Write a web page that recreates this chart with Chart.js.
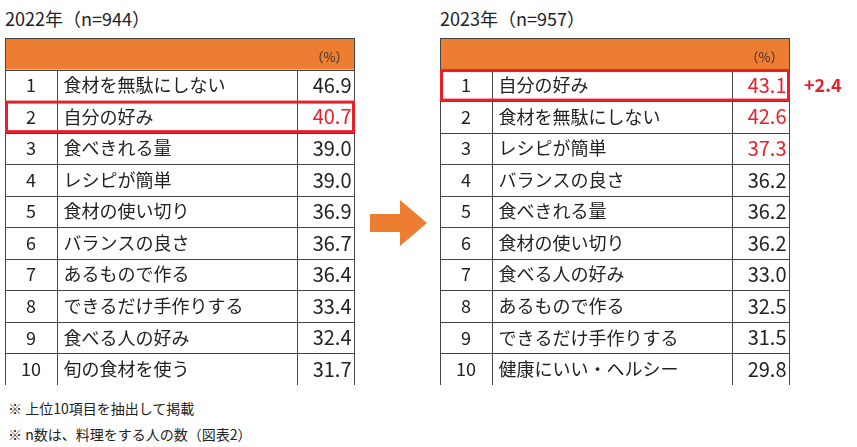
<!DOCTYPE html>
<html><head><meta charset="utf-8">
<script src="https://cdn.jsdelivr.net/npm/chart.js@4"></script>
<style>
body{margin:0;background:#fff;font-family:"Noto Sans CJK JP",sans-serif;width:857px;height:447px;position:relative;overflow:hidden}
.t{position:absolute;font-size:18px;color:#222;top:5px}
.n{position:absolute;left:8px;font-size:14px;color:#222}
canvas{position:absolute;top:38px}
#arrow{position:absolute;left:370px;top:200px}
</style></head><body>
<div class="t" style="left:5px">2022年（n=944）</div>
<div class="t" style="left:440px">2023年（n=957）</div>
<canvas id="c2022" width="351" height="347" style="left:5px"></canvas>
<canvas id="c2023" width="420" height="347" style="left:440px"></canvas>
<svg id="arrow" width="58" height="46"><polygon points="0,14 30,14 30,0 57,23 30,46 30,32 0,32" fill="#ED7D31"/></svg>
<div class="n" style="top:398px">※ 上位10項目を抽出して掲載</div>
<div class="n" style="top:424px">※ n数は、料理をする人の数（図表2）</div>
<script>
const ranks = ['1','2','3','4','5','6','7','8','9','10'];
const items2022 = ['食材を無駄にしない','自分の好み','食べきれる量','レシピが簡単','食材の使い切り','バランスの良さ','あるもので作る','できるだけ手作りする','食べる人の好み','旬の食材を使う'];
const values2022 = [46.9,40.7,39.0,39.0,36.9,36.7,36.4,33.4,32.4,31.7];
const red2022 = [1];
const items2023 = ['自分の好み','食材を無駄にしない','レシピが簡単','バランスの良さ','食べきれる量','食材の使い切り','食べる人の好み','あるもので作る','できるだけ手作りする','健康にいい・ヘルシー'];
const values2023 = [43.1,42.6,37.3,36.2,36.2,36.2,33.0,32.5,31.5,29.8];
const red2023 = [0,1,2];
const boxed2022 = 1, boxed2023 = 0;
const diffLabel = '+2.4';

function makeTable(id, items, values, redRows, boxed, extra) {
  const W = 350;
  new Chart(document.getElementById(id), {
    type: 'bar',
    data: {
      labels: ['head', ...ranks],
      datasets: [{ data: [0, ...values], backgroundColor: 'rgba(0,0,0,0)' }]
    },
    options: {
      indexAxis: 'y', responsive: false, animation: false,
      layout: { padding: 0 },
      plugins: { legend: { display: false }, tooltip: { enabled: false } },
      scales: { x: { display: false, min: 0, max: 100 }, y: { display: false } }
    },
    plugins: [{
      id: 'table',
      afterDraw(chart) {
        const ctx = chart.ctx, y = chart.scales.y;
        const half = (y.getPixelForValue(1) - y.getPixelForValue(0)) / 2;
        const x0 = 0.5, x1 = 52.5, x2 = 292.5, x3 = W - 0.5;
        ctx.save();
        const h0 = y.getPixelForValue(0);
        ctx.fillStyle = '#ED7D31';
        ctx.fillRect(0, h0 - half, W, 2 * half);
        ctx.strokeStyle = '#444'; ctx.lineWidth = 1;
        ctx.strokeRect(x0, Math.round(h0 - half) + 0.5, x3 - x0, Math.round(2 * half));
        ctx.fillStyle = '#333';
        ctx.font = '13px "Noto Sans CJK JP"';
        ctx.textAlign = 'right'; ctx.textBaseline = 'middle';
        ctx.fillText('（%）', x3 - 6, h0 + 3);
        for (let i = 1; i <= 10; i++) {
          const cy = y.getPixelForValue(i), top = Math.round(cy - half) + 0.5, bot = Math.round(cy + half) + 0.5;
          ctx.strokeRect(x0, top, x3 - x0, bot - top);
          ctx.beginPath(); ctx.moveTo(x1, top); ctx.lineTo(x1, bot); ctx.moveTo(x2, top); ctx.lineTo(x2, bot); ctx.stroke();
          ctx.font = '18px "Noto Sans CJK JP"';
          ctx.fillStyle = '#222'; ctx.textAlign = 'center';
          ctx.fillText(ranks[i - 1], 26, cy);
          ctx.textAlign = 'left';
          ctx.fillText(items[i - 1], x1 + 6, cy);
          ctx.textAlign = 'right';
          ctx.font = '20px "Noto Sans CJK JP"';
          ctx.fillStyle = redRows.includes(i - 1) ? '#E8202A' : '#222';
          ctx.fillText(values[i - 1].toFixed(1), x3 - 3, cy);
        }
        const by = y.getPixelForValue(boxed + 1);
        ctx.strokeStyle = '#E8202A'; ctx.lineWidth = 3;
        ctx.strokeRect(1.5, by - half + 1, W - 3, 2 * half - 2);
        if (extra) {
          ctx.fillStyle = '#E8202A'; ctx.font = 'bold 18px "Noto Sans CJK JP"'; ctx.textAlign = 'left';
          ctx.fillText(extra, W + 14, by);
        }
        ctx.restore();
      }
    }]
  });
}
makeTable('c2022', items2022, values2022, red2022, boxed2022, null);
makeTable('c2023', items2023, values2023, red2023, boxed2023, diffLabel);
</script>
</body></html>
